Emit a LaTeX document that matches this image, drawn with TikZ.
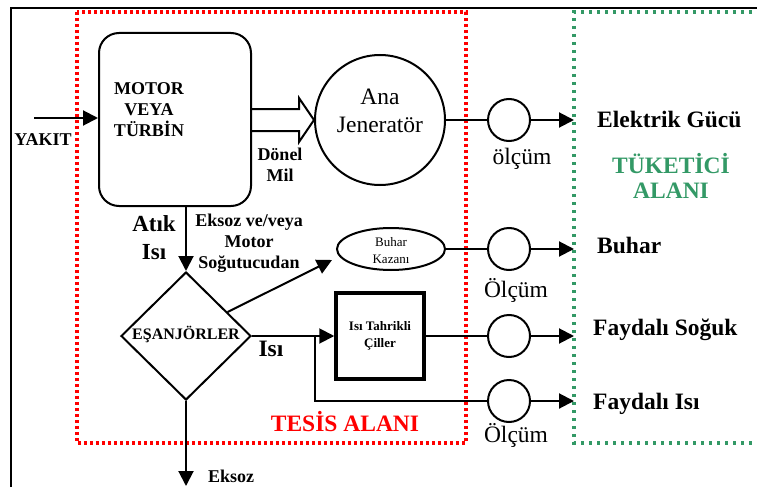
\documentclass[tikz,border=0pt]{standalone}
\usepackage{fontspec}
\setmainfont{Liberation Serif}
\usetikzlibrary{arrows.meta,shapes.geometric,calc}
\definecolor{tesisred}{RGB}{255,0,0}
\definecolor{tukgreen}{RGB}{51,153,102}
\newcommand{\fbig}{\fontsize{23.5}{28}\selectfont}
\newcommand{\fmid}{\fontsize{18}{21}\selectfont}
\newcommand{\fdia}{\fontsize{16}{19}\selectfont}
\newcommand{\fsmall}{\fontsize{13}{17}\selectfont}
\tikzset{
  x=1pt, y=-1pt,
  flow/.style={line width=2pt},
  tip/.style={flow, -{Triangle[length=15pt,width=15pt]}},
  meter/.style={circle, draw, line width=2pt, minimum size=42pt, inner sep=0pt},
  redzone/.style={line width=3.3pt, dash pattern=on 3.3pt off 2.7pt, tesisred},
  greenzone/.style={line width=3.3pt, dash pattern=on 3.3pt off 4.7pt, tukgreen},
  lbl/.style={inner sep=0pt, align=center},
}
\begin{document}
\begin{tikzpicture}
\useasboundingbox (0,0) rectangle (757,487);
% outer frame
\draw[line width=1.6pt] (11,487) -- (11,8) -- (757,8);
% plant (red) and consumer (green) zones
\draw[redzone] (77,12) rectangle (466,443);
\draw[greenzone] (760,12) -- (574,12) -- (574,443) -- (760,443);

% main units
\node[draw, line width=2pt, rounded corners=20pt, minimum width=152pt, minimum height=173pt] (motor) at (175,119.5) {};
\node[lbl, font=\fmid\bfseries, text depth=0pt] (mottext) at (149,110) {MOTOR\\VEYA\\TÜRBİN};
\node[circle, draw, line width=2pt, minimum size=130pt, inner sep=0pt] (gen) at (380,120) {};
\node[lbl, font=\fbig] (gentext) at (380,111) {Ana\\Jeneratör};
\node[ellipse, draw, line width=2pt, minimum width=108pt, minimum height=42pt, inner sep=0pt] (kazan) at (391,249) {};
\node[lbl, font=\fsmall, text depth=0pt] (kazantext) at (391,250) {Buhar\\Kazanı};
\node[diamond, draw, line width=2pt, aspect=1, minimum width=130pt, minimum height=128pt, inner sep=0pt] (esan) at (186,336) {};
\node[lbl, font=\fdia\bfseries] (esantext) at (186,334) {EŞANJÖRLER};
\node[draw, line width=3.5pt, minimum width=88pt, minimum height=86pt, inner sep=0pt, font=\fsmall\bfseries, align=center] (chiller) at (380,336) {Isı Tahrikli\\Çiller};

% meters
\node[meter] (m1) at (509,120) {};
\node[meter] (m2) at (509,249) {};
\node[meter] (m3) at (509,336) {};
\node[meter] (m4) at (509,401) {};

% delivery points on the consumer boundary
\coordinate (e1) at (574,120);
\coordinate (e2) at (574,249);
\coordinate (e3) at (574,336);
\coordinate (e4) at (574,401);
\coordinate (fuel) at (34,118);
\coordinate (exh) at (186,486);
\coordinate (br) at (315,336);

% fuel in
\draw[tip] (fuel) -- (fuel -| motor.west);
% shaft (hollow arrow)
\draw[line width=2pt, line join=miter] (251,109) -- (299,109) -- (299,98) -- (gen.west) -- (299,142) -- (299,131) -- (251,131);
% electricity
\draw[flow] (gen.east) -- (m1.west);
\draw[tip] (m1.east) -- (e1);
% waste heat to exchangers
\draw[tip] (esan.north |- motor.south) -- (esan.north);
% steam
\draw[tip] (esan.30) -- ([shift={(-4,11)}]kazan.west);
\draw[flow] (kazan.east) -- (m2.west);
\draw[tip] (m2.east) -- (e2);
% heat to chiller and useful heat
\draw[tip] (esan.east) -- (chiller.west);
\draw[flow] (br) |- (m4.west);
\draw[flow] (chiller.east) -- (m3.west);
\draw[tip] (m3.east) -- (e3);
\draw[tip] (m4.east) -- (e4);
% exhaust
\draw[tip] (esan.south) -- (exh);

% labels
\node[lbl, font=\fmid\bfseries] (yakit) at (43,140) {YAKIT};
\node[lbl, font=\fmid\bfseries, text depth=0pt] (donel) at (280,165) {Dönel\\Mil};
\node[lbl, font=\fontsize{23}{28}\selectfont\bfseries, text depth=0pt] (atik) at (154,238) {Atık\\Isı};
\node[lbl, font=\fontsize{18}{21}\selectfont\bfseries, text depth=0pt] (eksozsrc) at (249,241) {Eksoz ve/veya\\Motor\\Soğutucudan};
\node[lbl, font=\fbig\bfseries] (isi) at (271,349) {Isı};
\node[lbl, font=\fmid\bfseries, anchor=west] (eksoz) at (208,476) {Eksoz};
\node[lbl, font=\fbig] (o1) at (522,159) {ölçüm};
\node[lbl, font=\fbig] (o2) at (516,290) {Ölçüm};
\node[lbl, font=\fbig] (o4) at (516,435) {Ölçüm};
\node[lbl, font=\fbig\bfseries, anchor=west] (elek) at (597,119) {Elektrik Gücü};
\node[lbl, font=\fbig\bfseries, anchor=west] (buhar) at (597,245) {Buhar};
\node[lbl, font=\fbig\bfseries, anchor=west] (soguk) at (593,330) {Faydalı Soğuk};
\node[lbl, font=\fbig\bfseries, anchor=west] (faydisi) at (593,404) {Faydalı Isı};
\node[lbl, font=\fontsize{23.5}{25}\selectfont\bfseries, text=tukgreen, text depth=0pt] (tuk) at (671,176) {TÜKETİCİ\\ALANI};
\node[lbl, font=\fbig\bfseries, text=tesisred] (tesis) at (345,422) {TESİS ALANI};
\end{tikzpicture}
\end{document}
